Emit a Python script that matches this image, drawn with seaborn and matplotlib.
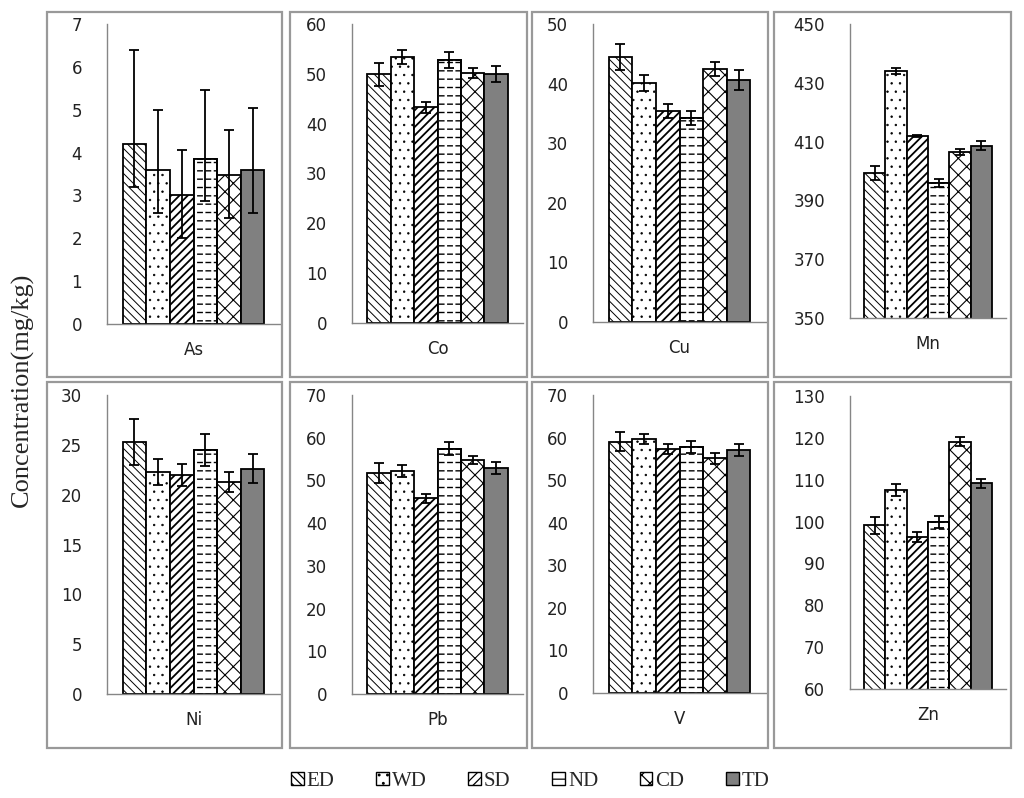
import numpy as np
import pandas as pd
import matplotlib
matplotlib.use('Agg')
import matplotlib.pyplot as plt
from matplotlib.patches import Rectangle, Patch
import seaborn as sns

sites = ['ED', 'WD', 'SD', 'ND', 'CD', 'TD']
elements = ['As', 'Co', 'Cu', 'Mn', 'Ni', 'Pb', 'V', 'Zn']

# mean concentration per site (mg/kg)
as_vals = [4.2, 3.6, 3.0, 3.86, 3.48, 3.6]
co_vals = [49.9, 53.4, 43.3, 52.8, 50.2, 49.9]
cu_vals = [44.4, 40.1, 35.4, 34.2, 42.5, 40.6]
mn_vals = [399.3, 434.0, 411.9, 395.9, 406.4, 408.6]
ni_vals = [25.3, 22.3, 22.0, 24.5, 21.3, 22.6]
pb_vals = [51.7, 52.2, 45.8, 57.4, 54.8, 52.9]
v_vals = [59.0, 59.7, 57.3, 57.8, 55.1, 57.0]
zn_vals = [99.1, 107.6, 96.3, 99.9, 119.1, 109.1]

# upper error (lower error same, except As)
as_err = [2.2, 1.4, 1.05, 1.6, 1.05, 1.45]
as_err_lo = [1.0, 1.0, 1.0, 1.0, 1.0, 1.0]
co_err = [2.3, 1.4, 1.1, 1.6, 1.0, 1.6]
cu_err = [2.2, 1.4, 1.1, 1.2, 1.2, 1.6]
mn_err = [2.3, 0.9, 0.4, 1.5, 1.1, 1.5]
ni_err = [2.3, 1.3, 1.1, 1.6, 1.0, 1.45]
pb_err = [2.3, 1.4, 1.1, 1.5, 1.0, 1.5]
v_err = [2.2, 1.1, 1.1, 1.5, 1.2, 1.4]
zn_err = [2.1, 1.4, 1.2, 1.4, 1.0, 1.1]

all_vals = [as_vals, co_vals, cu_vals, mn_vals, ni_vals, pb_vals, v_vals, zn_vals]
all_err = [as_err, co_err, cu_err, mn_err, ni_err, pb_err, v_err, zn_err]
all_err_lo = [as_err_lo, co_err, cu_err, mn_err, ni_err, pb_err, v_err, zn_err]

y_limits = [(0, 7, 1), (0, 60, 10), (0, 50, 10), (350, 450, 20),
            (0, 30, 5), (0, 70, 10), (0, 70, 10), (60, 130, 10)]

hatches = ['\\\\\\\\', '..', '////', '--', 'xx', '']
hatch_lw = [0.7, 0.5, 1.3, 1.0, 0.8, 0.8]
faces = ['white', 'white', 'white', 'white', 'white', '#808080']

rows = []
for el, vals in zip(elements, all_vals):
    for s, v in zip(sites, vals):
        rows.append({'element': el, 'site': s, 'value': v})
df = pd.DataFrame(rows)

sns.set_style('white')
plt.rcParams['hatch.linewidth'] = 0.9
plt.rcParams['font.family'] = ['DejaVu Sans']

fig = plt.figure(figsize=(10.24, 7.98), dpi=100)
W, H = 1024, 798

# panel boxes (pixels) and axes positions (pixels)
col_box = [(47, 282), (290, 527), (532, 768), (774, 1011)]
row_box = [(12, 377), (382, 748)]
ax_x = [(107, 280), (352, 523), (593, 766), (850, 1006)]
ax_y = [[(24, 324), (24, 323), (24, 322), (24, 318)],
        [(395, 694), (395, 694), (395, 693), (396, 689)]]

gray = '#868686'


def style_hatch(p, k):
    p.set_facecolor(faces[k])
    p.set_hatch(hatches[k])
    p.set_edgecolor('black')
    if hasattr(p, 'set_hatch_linewidth'):
        p.set_hatch_linewidth(hatch_lw[k])


for i, el in enumerate(elements):
    r, c = divmod(i, 4)
    bx0, bx1 = col_box[c]
    by0, by1 = row_box[r]
    fig.add_artist(Rectangle((bx0 / W, 1 - by1 / H), (bx1 - bx0) / W, (by1 - by0) / H,
                             transform=fig.transFigure, fill=False,
                             edgecolor='#999999', lw=1.6))
    x0, x1 = ax_x[c]
    yt, yb = ax_y[r][c]
    ax = fig.add_axes([x0 / W, 1 - yb / H, (x1 - x0) / W, (yb - yt) / H])
    sub = df[df['element'] == el]
    sns.barplot(data=sub, x='element', y='value', hue='site', hue_order=sites,
                width=0.82, edgecolor='black', linewidth=1.3, errorbar=None,
                legend=False, ax=ax)
    bar_conts = list(ax.containers)
    for k, cont in enumerate(bar_conts):
        for p in cont.patches:
            style_hatch(p, k)
            if sites[k] == 'ND':
                # break the horizontal lines into short dashes
                gap = Rectangle((p.get_x(), p.get_y()), p.get_width(), p.get_height(),
                                facecolor='none', edgecolor='white', lw=0,
                                hatch='||', zorder=1.5)
                if hasattr(gap, 'set_hatch_linewidth'):
                    gap.set_hatch_linewidth(1.8)
                ax.add_patch(gap)
                ax.add_patch(Rectangle((p.get_x(), p.get_y()), p.get_width(),
                                       p.get_height(), fill=False,
                                       edgecolor='black', lw=1.3, zorder=1.6))
            xc = p.get_x() + p.get_width() / 2
            ax.errorbar(xc, p.get_height(),
                        yerr=[[all_err_lo[i][k]], [all_err[i][k]]],
                        fmt='none', ecolor='black', elinewidth=1.3,
                        capsize=3.3, capthick=1.3, zorder=5)
    lo, hi, step = y_limits[i]
    ax.set_ylim(lo, hi)
    ax.set_yticks(np.arange(lo, hi + step / 2, step))
    ax.set_xlim(-0.5, 0.5)
    ax.set_xlabel('')
    ax.set_ylabel('')
    for sp in ['top', 'right']:
        ax.spines[sp].set_visible(False)
    for sp in ['left', 'bottom']:
        ax.spines[sp].set_color(gray)
        ax.spines[sp].set_linewidth(1.0)
    ax.tick_params(axis='y', length=5, width=1.0, color=gray, labelsize=12,
                   labelcolor='#222222', pad=13)
    ax.tick_params(axis='x', which='major', length=0, labelsize=12,
                   labelcolor='#222222', pad=12)
    ax.set_xticks([-0.5, 0.5], minor=True)
    ax.tick_params(axis='x', which='minor', length=5, width=1.0, color=gray)

fig.text(0.022, 0.511, 'Concentration(mg/kg)', rotation=90, ha='center', va='center',
         fontsize=19, family='Liberation Serif')

handles = []
for k in range(len(sites)):
    h = Patch(facecolor=faces[k], edgecolor='black', hatch=hatches[k], lw=1.0)
    handles.append(h)
fig.legend(handles, sites, loc='center', bbox_to_anchor=(0.518, 0.021), ncol=6,
           frameon=False, prop={'family': 'Liberation Serif', 'size': 15},
           handlelength=0.6, handleheight=0.6, handletextpad=0.15, columnspacing=2.0)

fig.savefig('out.png', dpi=100)
